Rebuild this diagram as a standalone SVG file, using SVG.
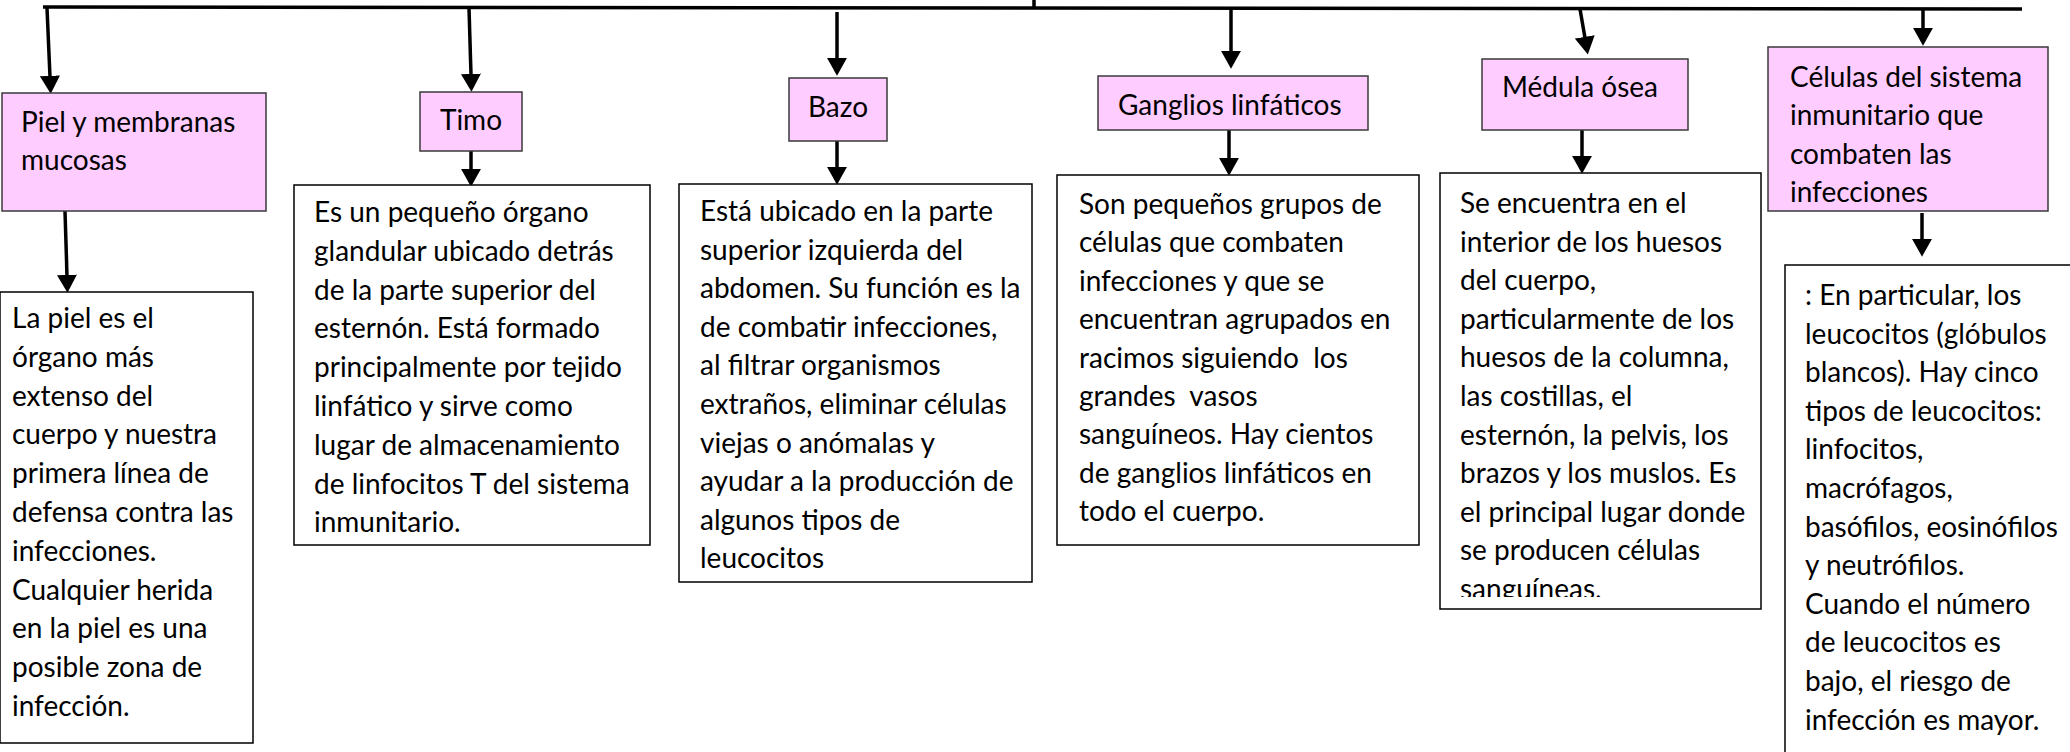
<svg xmlns="http://www.w3.org/2000/svg" width="2070" height="752" viewBox="0 0 2070 752">
<style>
.hd{fill:#FFCCFF;stroke:#3a3a3a;stroke-width:1.5}
.bx{fill:#FFFFFF;stroke:#000000;stroke-width:1.5}
.t{font-family:Lato,"Noto Sans",sans-serif;font-size:28px;fill:#000;white-space:pre}
.c{stroke:#000;stroke-width:3.5;fill:none}
</style>
<defs>
<marker id="ah" markerUnits="userSpaceOnUse" markerWidth="18" markerHeight="20" viewBox="0 -9 16 18" refX="1" refY="0" orient="auto">
<path d="M0,-9 L16,0 L0,9 z" fill="#000"/>
</marker>
<clipPath id="clipMed"><rect x="1440" y="173" width="322" height="424"/></clipPath>
</defs>
<rect width="2070" height="752" fill="#fff"/>
<g id="connectors">
<line class="c" x1="43" y1="7" x2="2022" y2="9"/>
<line class="c" x1="1034" y1="0" x2="1034" y2="9" stroke-width="3"/>
<line class="c" x1="47" y1="8" x2="50" y2="77" marker-end="url(#ah)"/>
<line class="c" x1="65" y1="211" x2="67" y2="276" marker-end="url(#ah)"/>
<line class="c" x1="469" y1="8" x2="471" y2="75" marker-end="url(#ah)"/>
<line class="c" x1="471" y1="151" x2="471" y2="170" marker-end="url(#ah)"/>
<line class="c" x1="837" y1="12" x2="837" y2="59" marker-end="url(#ah)"/>
<line class="c" x1="837" y1="141" x2="837" y2="168" marker-end="url(#ah)"/>
<line class="c" x1="1231" y1="9" x2="1231" y2="52" marker-end="url(#ah)"/>
<line class="c" x1="1229" y1="130" x2="1229" y2="159" marker-end="url(#ah)"/>
<line class="c" x1="1580" y1="9" x2="1585" y2="38" marker-end="url(#ah)"/>
<line class="c" x1="1582" y1="130" x2="1582" y2="157" marker-end="url(#ah)"/>
<line class="c" x1="1923" y1="10" x2="1923" y2="29" marker-end="url(#ah)"/>
<line class="c" x1="1922" y1="213" x2="1922" y2="240" marker-end="url(#ah)"/>
</g>
<g id="piel">
<rect class="hd" x="2" y="93" width="264" height="118"/>
<text class="t" x="21" y="132">Piel y membranas</text>
<text class="t" x="21" y="170">mucosas</text>
</g>
<g id="piel-desc">
<rect class="bx" x="0" y="292" width="253" height="451"/>
<text class="t" x="12" y="328">La piel es el</text>
<text class="t" x="12" y="366.8">órgano más</text>
<text class="t" x="12" y="405.6">extenso del</text>
<text class="t" x="12" y="444.4">cuerpo y nuestra</text>
<text class="t" x="12" y="483.2">primera línea de</text>
<text class="t" x="12" y="522">defensa contra las</text>
<text class="t" x="12" y="560.8">infecciones.</text>
<text class="t" x="12" y="599.6">Cualquier herida</text>
<text class="t" x="12" y="638.4">en la piel es una</text>
<text class="t" x="12" y="677.2">posible zona de</text>
<text class="t" x="12" y="716">infección.</text>
</g>
<g id="timo">
<rect class="hd" x="420" y="92" width="102" height="59"/>
<text class="t" x="471" y="130" text-anchor="middle">Timo</text>
</g>
<g id="timo-desc">
<rect class="bx" x="294" y="185" width="356" height="360"/>
<text class="t" x="314" y="222">Es un pequeño órgano</text>
<text class="t" x="314" y="260.8">glandular ubicado detrás</text>
<text class="t" x="314" y="299.6">de la parte superior del</text>
<text class="t" x="314" y="338.4">esternón. Está formado</text>
<text class="t" x="314" y="377.2">principalmente por tejido</text>
<text class="t" x="314" y="416">linfático y sirve como</text>
<text class="t" x="314" y="454.8">lugar de almacenamiento</text>
<text class="t" x="314" y="493.6">de linfocitos T del sistema</text>
<text class="t" x="314" y="532.4">inmunitario.</text>
</g>
<g id="bazo">
<rect class="hd" x="789" y="78" width="98" height="63"/>
<text class="t" x="838" y="117" text-anchor="middle">Bazo</text>
</g>
<g id="bazo-desc">
<rect class="bx" x="679" y="184" width="353" height="398"/>
<text class="t" x="700" y="221">Está ubicado en la parte</text>
<text class="t" x="700" y="259.6">superior izquierda del</text>
<text class="t" x="700" y="298.2">abdomen. Su función es la</text>
<text class="t" x="700" y="336.8">de combatir infecciones,</text>
<text class="t" x="700" y="375.4">al filtrar organismos</text>
<text class="t" x="700" y="414">extraños, eliminar células</text>
<text class="t" x="700" y="452.6">viejas o anómalas y</text>
<text class="t" x="700" y="491.2">ayudar a la producción de</text>
<text class="t" x="700" y="529.8">algunos tipos de</text>
<text class="t" x="700" y="568.4">leucocitos</text>
</g>
<g id="ganglios">
<rect class="hd" x="1098" y="76" width="270" height="54"/>
<text class="t" x="1118" y="115">Ganglios linfáticos</text>
</g>
<g id="ganglios-desc">
<rect class="bx" x="1057" y="175" width="362" height="370"/>
<text class="t" x="1079" y="214">Son pequeños grupos de</text>
<text class="t" x="1079" y="252.4">células que combaten</text>
<text class="t" x="1079" y="290.8">infecciones y que se</text>
<text class="t" x="1079" y="329.2">encuentran agrupados en</text>
<text class="t" x="1079" y="367.6">racimos siguiendo  los</text>
<text class="t" x="1079" y="406">grandes  vasos</text>
<text class="t" x="1079" y="444.4">sanguíneos. Hay cientos</text>
<text class="t" x="1079" y="482.8">de ganglios linfáticos en</text>
<text class="t" x="1079" y="521.2">todo el cuerpo.</text>
</g>
<g id="medula">
<rect class="hd" x="1482" y="59" width="206" height="71"/>
<text class="t" x="1502" y="97">Médula ósea</text>
</g>
<g id="medula-desc">
<rect class="bx" x="1440" y="173" width="321" height="436"/>
<g clip-path="url(#clipMed)">
<text class="t" x="1460" y="213">Se encuentra en el</text>
<text class="t" x="1460" y="251.6">interior de los huesos</text>
<text class="t" x="1460" y="290.2">del cuerpo,</text>
<text class="t" x="1460" y="328.8">particularmente de los</text>
<text class="t" x="1460" y="367.4">huesos de la columna,</text>
<text class="t" x="1460" y="406">las costillas, el</text>
<text class="t" x="1460" y="444.6">esternón, la pelvis, los</text>
<text class="t" x="1460" y="483.2">brazos y los muslos. Es</text>
<text class="t" x="1460" y="521.8">el principal lugar donde</text>
<text class="t" x="1460" y="560.4">se producen células</text>
<text class="t" x="1460" y="599">sanguíneas.</text>
</g>
</g>
<g id="celulas">
<rect class="hd" x="1768" y="47" width="280" height="164"/>
<text class="t" x="1790" y="87">Células del sistema</text>
<text class="t" x="1790" y="125.3">inmunitario que</text>
<text class="t" x="1790" y="163.6">combaten las</text>
<text class="t" x="1790" y="202">infecciones</text>
</g>
<g id="celulas-desc">
<rect class="bx" x="1785" y="265" width="300" height="500"/>
<text class="t" x="1805" y="305">: En particular, los</text>
<text class="t" x="1805" y="343.6">leucocitos (glóbulos</text>
<text class="t" x="1805" y="382.2">blancos). Hay cinco</text>
<text class="t" x="1805" y="420.8">tipos de leucocitos:</text>
<text class="t" x="1805" y="459.4">linfocitos,</text>
<text class="t" x="1805" y="498">macrófagos,</text>
<text class="t" x="1805" y="536.6">basófilos, eosinófilos</text>
<text class="t" x="1805" y="575.2">y neutrófilos.</text>
<text class="t" x="1805" y="613.8">Cuando el número</text>
<text class="t" x="1805" y="652.4">de leucocitos es</text>
<text class="t" x="1805" y="691">bajo, el riesgo de</text>
<text class="t" x="1805" y="729.6">infección es mayor.</text>
</g>
</svg>
